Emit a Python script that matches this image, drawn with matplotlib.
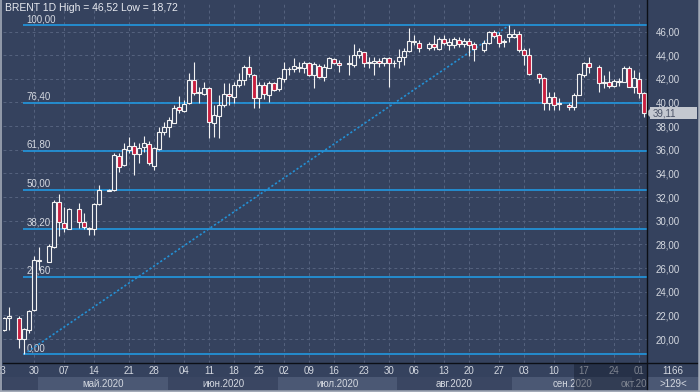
import matplotlib
matplotlib.use("Agg")
import matplotlib.pyplot as plt
from matplotlib.patches import Rectangle, Polygon
from matplotlib.lines import Line2D
import numpy as np

plt.rcParams['font.family'] = ['Liberation Sans', 'DejaVu Sans']

# ---------------- data (one slot per bar, None = empty slot) ----------------
title = "BRENT 1D High = 46,52 Low = 18,72"

opens = [20.80, 21.78, None, 21.76, 19.98, 20.76, 22.46, 26.60, None, 26.54,
         27.81, 31.61, 29.79, 29.30, None, 30.97, 29.92, 29.30, 29.30, 31.39,
         None, 32.55, 32.60, 35.50, 34.72, 35.98, 36.35, 35.65, 36.21, 36.47,
         34.63, 36.04, 37.53, 37.95, 38.29, 39.60, 39.30, 39.93, 41.90, 40.78,
         40.69, 41.20, 38.29, 38.86, 39.80, 40.69, 40.49, 41.48, 41.90, 42.97,
         42.32, 40.35, 41.48, 40.63, 41.62, 41.14, 41.98, 42.80, 42.83, 43.02,
         42.89, 43.30, 42.32, 43.07, 42.18, 42.94, 43.65, 43.35, None, 43.28,
         43.17, 44.01, 44.24, 43.35, 43.31, 43.50, 43.31, 43.73, 43.33, 43.53,
         43.87, 44.35, 45.10, 45.05, None, 44.58, 44.94, 44.50, 45.34, 44.86,
         44.86, 45.28, 44.94, 45.22, 44.94, None, 44.44, 45.00, 45.98, 45.70,
         45.10, 45.56, 45.56, 45.79, 44.44, 44.01, None, 42.38, 42.04, 39.93,
         40.49, 39.90, None, 39.79, 39.64, 40.63, 42.32, 43.31, None, 42.97,
         41.65, 41.70, 41.42, 41.74, 41.76, 42.89, 41.33, 41.96, 40.83]

highs = [21.90, 22.74, None, 21.95, 20.90, 22.45, 27.00, 27.80, None, 28.04,
         31.76, 32.26, 31.19, 31.10, None, 31.48, 30.63, 29.50, 31.48, 33.02,
         None, 32.65, 35.70, 35.70, 36.60, 37.11, 36.69, 36.55, 37.19, 36.74,
         36.20, 37.90, 38.38, 38.76, 39.79, 40.55, 40.20, 42.52, 43.45, 41.33,
         41.76, 41.33, 39.79, 40.63, 41.62, 41.62, 41.70, 42.47, 43.17, 43.93,
         42.38, 41.70, 41.70, 41.82, 41.70, 42.18, 43.40, 43.02, 43.73, 43.45,
         43.50, 43.45, 43.40, 43.22, 43.22, 43.87, 43.79, 43.59, None, 44.01,
         44.94, 44.58, 44.29, 43.87, 43.82, 43.73, 43.87, 43.82, 43.59, 44.50,
         44.58, 46.27, 45.70, 45.28, None, 45.14, 45.70, 45.56, 45.70, 45.42,
         45.56, 45.51, 45.45, 45.42, 45.14, None, 45.28, 46.05, 46.13, 45.98,
         45.34, 46.52, 46.18, 46.07, 44.58, 44.58, None, 42.47, 42.18, 40.91,
         40.91, 40.35, None, 39.93, 40.83, 42.52, 43.45, 43.82, None, 43.17,
         42.32, 42.69, 42.00, 42.10, 43.08, 43.05, 42.75, 42.60, 40.91]

lows = [20.70, 20.80, None, 19.22, 18.72, 20.49, 22.40, 25.84, None, 26.50,
        27.70, 28.74, 29.08, 29.30, None, 29.36, 29.30, 28.80, 28.80, 31.30,
        None, 32.55, 32.55, 34.15, 34.63, 35.70, 33.87, 34.91, 35.84, 34.72,
        34.30, 36.00, 37.25, 37.11, 38.24, 39.08, 39.22, 39.90, 40.63, 39.98,
        40.60, 37.00, 37.11, 36.97, 39.64, 39.80, 39.93, 41.30, 41.48, 42.18,
        39.56, 39.50, 40.30, 40.02, 40.97, 40.97, 41.76, 42.32, 42.60, 42.60,
        42.47, 42.26, 41.25, 42.04, 41.82, 42.89, 43.22, 42.60, None, 42.32,
        43.02, 43.73, 43.02, 42.89, 42.32, 43.02, 43.10, 41.33, 43.02, 42.89,
        43.17, 44.24, 44.86, 44.29, None, 44.44, 44.44, 44.44, 44.86, 44.44,
        44.60, 44.72, 44.72, 43.93, 43.53, None, 44.24, 44.95, 45.42, 44.72,
        44.72, 45.14, 45.42, 44.24, 43.17, 42.32, None, 41.62, 39.36, 39.36,
        39.36, 39.36, None, 39.36, 39.36, 40.60, 42.18, 42.52, None, 40.91,
        41.20, 41.20, 41.30, 41.40, 41.70, 41.30, 40.78, 40.35, 38.80]

closes = [21.75, 21.95, None, 19.98, 20.83, 22.40, 26.68, 26.70, None, 27.87,
          31.61, 29.87, 29.36, 30.97, None, 29.92, 29.45, 29.42, 31.39, 32.60,
          None, 32.62, 35.56, 34.52, 36.04, 36.35, 35.65, 36.13, 36.55, 34.91,
          36.13, 37.53, 37.97, 38.52, 39.51, 39.40, 39.84, 41.90, 40.78, 40.85,
          41.20, 38.38, 38.94, 39.79, 40.69, 40.52, 41.48, 41.90, 43.02, 42.38,
          40.35, 41.48, 40.69, 41.62, 41.06, 42.04, 42.83, 42.86, 43.07, 42.89,
          43.30, 42.32, 43.22, 42.18, 42.98, 43.73, 43.30, 43.20, None, 43.33,
          44.01, 44.35, 43.31, 43.42, 43.53, 43.31, 43.73, 43.31, 43.38, 43.87,
          44.35, 45.20, 45.16, 44.58, None, 44.94, 44.66, 45.34, 45.05, 45.14,
          45.34, 44.94, 45.20, 44.86, 44.50, None, 45.05, 45.98, 45.65, 45.05,
          45.16, 45.79, 45.79, 44.44, 44.01, 42.38, None, 42.04, 39.93, 40.49,
          39.79, 39.97, None, 39.59, 40.63, 42.38, 43.31, 43.02, None, 41.67,
          41.70, 41.42, 41.82, 41.80, 42.94, 41.33, 42.04, 40.78, 39.11]

fib_ratios = [1.0, 0.764, 0.618, 0.5, 0.382, 0.236, 0.0]
fib_labels = ["100,00", "76,40", "61,80", "50,00", "38,20", "23,60", "0,00"]

price_ticks = [20, 22, 24, 26, 28, 30, 32, 34, 36, 38, 40, 42, 44, 46]
price_tick_labels = ["20,00", "22,00", "24,00", "26,00", "28,00", "30,00", "32,00",
                     "34,00", "36,00", "38,00", "40,00", "42,00", "44,00", "46,00"]

date_ticks = [-0.7, 6, 12, 18, 25, 30, 36, 41, 46, 51, 56, 61, 66, 72, 77, 82,
              88, 93, 99, 104, 110, 116, 122, 127]
date_labels = ["23", "30", "07", "14", "21", "28", "04", "11", "18", "25", "02", "09",
               "16", "23", "30", "06", "13", "20", "27", "03", "10", "17", "24", "01"]

month_edges = [6.8, 32.8, 54.8, 78.6, 101.6, 125.6, 150.0]
month_labels = ["май.2020", "июн.2020", "июл.2020", "авг.2020", "сен.2020", "окт.2020"]

bar_count_text = "1166"
zoom_text = ">129<"

# ---------------- styling ----------------
W, H = 700, 392
BG = '#35425e'
GRID = '#55627e'
FIB = '#2391d6'
RED = '#c81f40'
WHITE = '#f2f2f2'
TXT = '#d4d8e0'
BAND_LIGHT = '#4b5874'
BAND_DARK = '#3a4662'
BORDER = '#a3aab7'

fig = plt.figure(figsize=(7, 3.92), dpi=100)
fig.patch.set_facecolor(BG)


def fx(px):
    return px / W


def fy(py):
    return 1 - py / H


XLIM = (-0.2, 128.6)
ax = fig.add_axes([fx(3), fy(363), 644 / W, 360 / H])
ax.set_facecolor(BG)
ax.set_xlim(*XLIM)
ax.set_ylim(17.98, 48.41)
for s in ax.spines.values():
    s.set_visible(False)
ax.set_xticks([])
ax.yaxis.tick_right()
ax.set_yticks(price_ticks)
ax.set_yticklabels(price_tick_labels)
ax.tick_params(axis='y', right=False, left=False, labelright=True, labelleft=False,
               labelsize=7, labelcolor=TXT, pad=3)

# grid
for y in price_ticks:
    ax.axhline(y, color=GRID, lw=0.7, ls=(0, (3, 3)), zorder=1)
for x in date_ticks:
    ax.axvline(x, color=GRID, lw=0.7, ls=(0, (3, 3)), zorder=1)

# Fibonacci construction from the extreme bars
valid = [i for i in range(len(highs)) if highs[i] is not None]
i_high = max(valid, key=lambda i: highs[i])
i_low = min(valid, key=lambda i: lows[i])
hi, lo = highs[i_high], lows[i_low]

for r, lab in zip(fib_ratios, fib_labels):
    lvl = lo + r * (hi - lo)
    ax.hlines(lvl, i_low - 0.2, XLIM[1], color=FIB, lw=1.3, zorder=3)
    ax.annotate(lab, (i_low, lvl), xytext=(2, 0.8), textcoords='offset points',
                va='bottom', ha='left', fontsize=7, color=TXT, zorder=2)

ax.plot([i_low, i_high], [lo, hi], color=FIB, lw=1.2, ls=(0, (1.3, 1.3)), zorder=3)

# candles
bw = 0.62
for i, (o, h, l, c) in enumerate(zip(opens, highs, lows, closes)):
    if o is None:
        continue
    ax.vlines(i, l, h, color=WHITE, lw=0.8, zorder=4)
    up = c >= o
    bottom = min(o, c)
    height = max(abs(c - o), 0.02)
    ax.add_patch(Rectangle((i - bw / 2, bottom), bw, height,
                           facecolor=BG if up else RED, edgecolor=WHITE,
                           lw=0.8, zorder=5))

# title
fig.text(fx(5), fy(8), title, ha='left', va='center', fontsize=7.5, color='#e8eaf0')

# ---------------- date strip ----------------
ax2 = fig.add_axes([fx(3), fy(390), 644 / W, 27 / H])
ax2.set_facecolor(BG)
ax2.set_xlim(*XLIM)
ax2.set_ylim(0, 27)
ax2.axis('off')
ax2.add_patch(Rectangle((XLIM[0], 0), XLIM[1] - XLIM[0], 13, facecolor=BAND_DARK,
                        edgecolor='none', zorder=1))
for j, lab in enumerate(month_labels):
    a, b = month_edges[j], month_edges[j + 1]
    col = BAND_LIGHT if j % 2 == 0 else BAND_DARK
    ax2.add_patch(Rectangle((a, 0), b - a, 13, facecolor=col, edgecolor='none', zorder=1))
    va_, vb_ = max(a, XLIM[0]), min(b, XLIM[1])
    ax2.text((va_ + vb_) / 2, 6.3, lab, ha='center', va='center', fontsize=7,
             color=TXT, zorder=2, clip_on=True)
for x, lab in zip(date_ticks, date_labels):
    ax2.text(x, 19.5, lab, ha='center', va='center', fontsize=7, color=TXT,
             zorder=2, clip_on=False)
ax2.add_patch(Rectangle((114, 0), XLIM[1] - 114, 27, facecolor='#151d2e',
                        alpha=0.45, edgecolor='none', zorder=3))

# right bottom box
fig.add_artist(Rectangle((fx(647), fy(390)), 53 / W, 13 / H, transform=fig.transFigure,
                         facecolor=BAND_LIGHT, edgecolor='none'))
fig.text(fx(673), fy(371), bar_count_text, ha='center', va='center', fontsize=7, color=TXT)
fig.text(fx(673), fy(384), zoom_text, ha='center', va='center', fontsize=7, color=TXT)

# current price marker
last = closes[-1]
fig.canvas.draw()
ypix = ax.transData.transform((0, last))[1]  # display pixels from bottom
yf = ypix / H
fig.add_artist(Rectangle((fx(650), yf - 6 / H), 47 / W, 12 / H, transform=fig.transFigure,
                         facecolor='#c4c8d0', edgecolor='none'))
fig.add_artist(Polygon([[fx(646), yf], [fx(651), yf + 5 / H], [fx(651), yf - 5 / H]],
                       closed=True, transform=fig.transFigure, facecolor='#c4c8d0',
                       edgecolor='none'))
fig.text(fx(653), yf, f"{last:.2f}".replace('.', ','), ha='left', va='center',
         fontsize=7, color='#4a5266')

# separators and border
fig.add_artist(Line2D([fx(647), fx(647)], [0, 1], transform=fig.transFigure,
                      color='#0c0f16', lw=1.0))
fig.add_artist(Line2D([fx(3), 1], [fy(363), fy(363)], transform=fig.transFigure,
                      color='#0c0f16', lw=1.0))
fig.add_artist(Line2D([fx(0.8), fx(0.8)], [0, 1], transform=fig.transFigure,
                      color=BORDER, lw=1.2))
fig.add_artist(Line2D([fx(698.8), fx(698.8)], [0, 1], transform=fig.transFigure,
                      color=BORDER, lw=1.8))
fig.add_artist(Line2D([0, 1], [fy(390.8), fy(390.8)], transform=fig.transFigure,
                      color=BORDER, lw=1.8))

fig.savefig("out.png", dpi=100, facecolor=BG)
